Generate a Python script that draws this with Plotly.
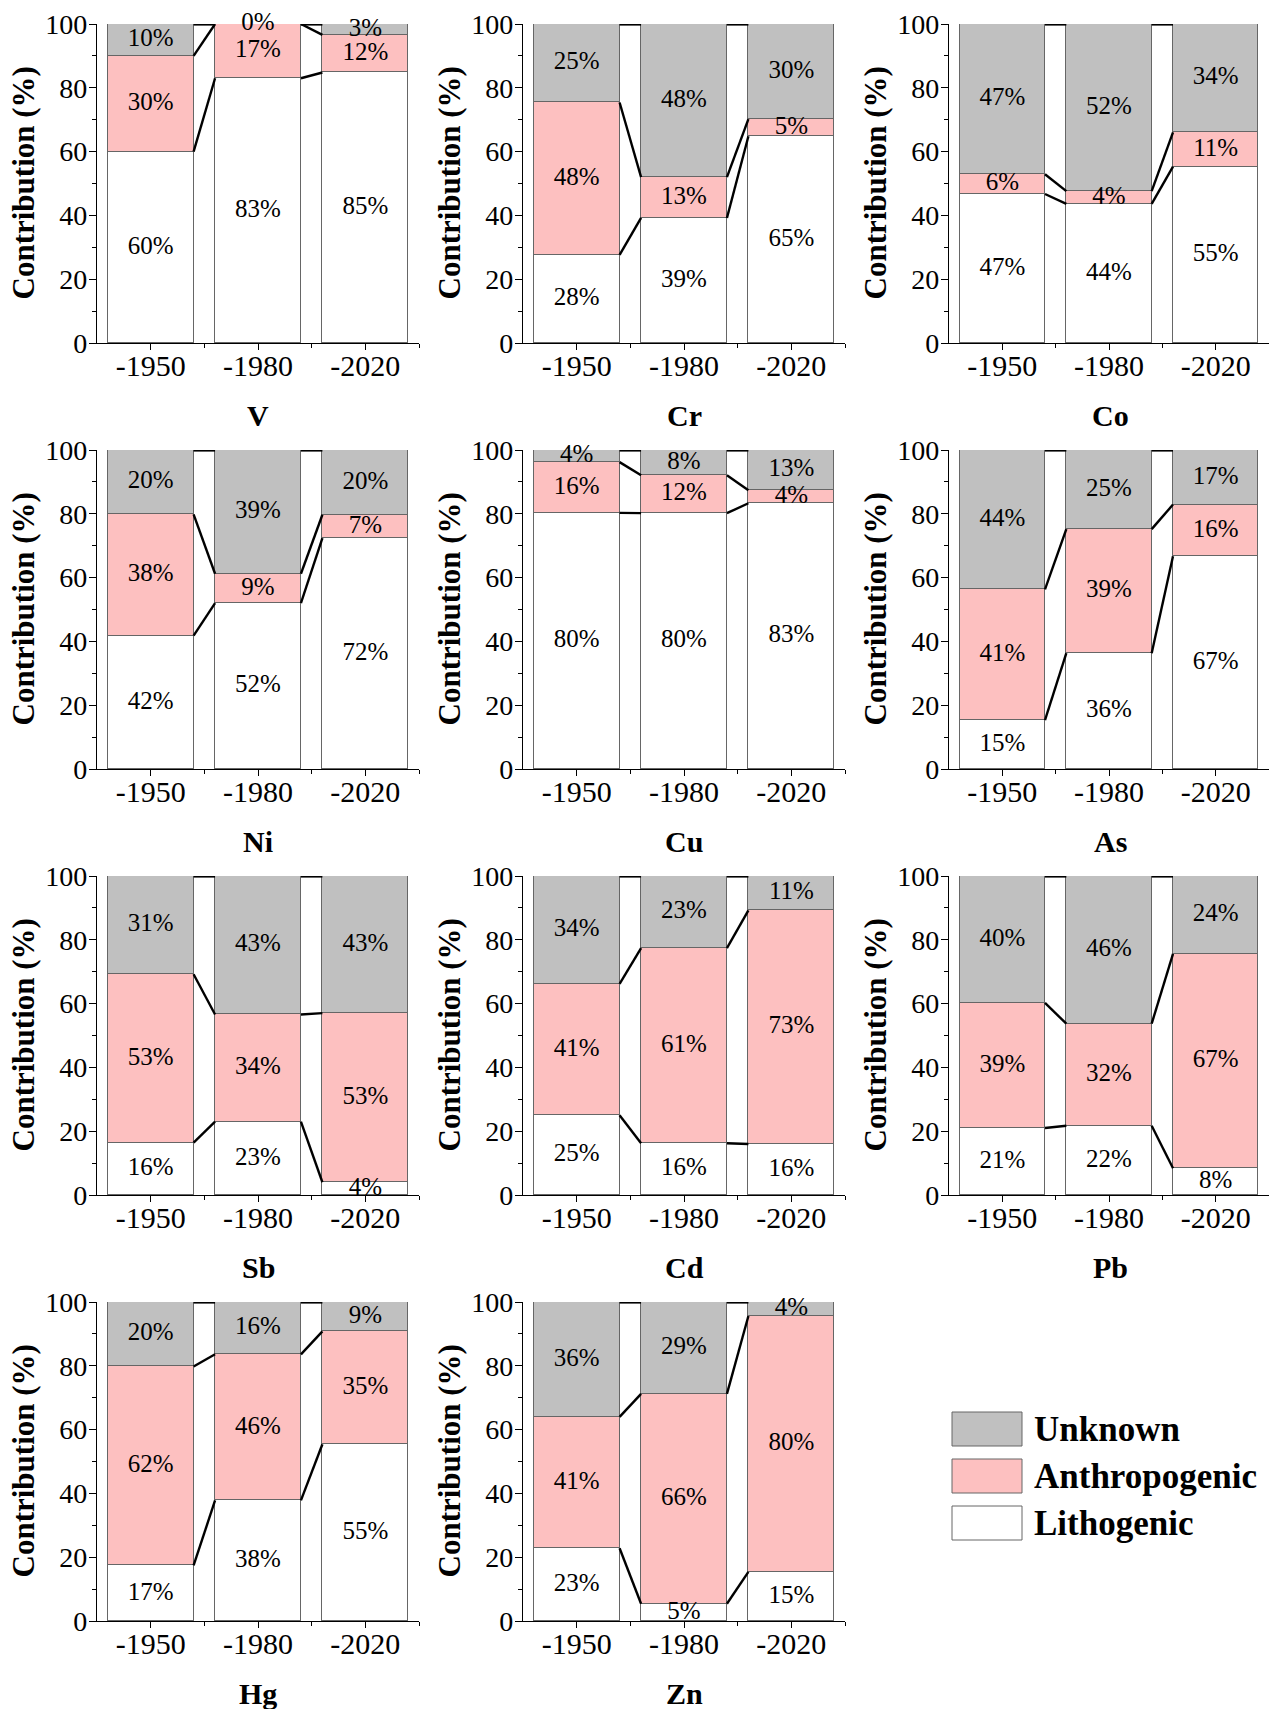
import plotly.graph_objects as go

# ---------------- data ----------------
elements = ["V", "Cr", "Co", "Ni", "Cu", "As", "Sb", "Cd", "Pb", "Hg", "Zn"]
periods = ["-1950", "-1980", "-2020"]

lithogenic = [
    [60.0, 83.0, 84.8],   # V
    [27.6, 39.2, 64.8],   # Cr
    [46.7, 43.6, 55.3],   # Co
    [41.8, 52.0, 72.4],   # Ni
    [80.3, 80.2, 83.3],   # Cu
    [15.3, 36.3, 66.7],   # As
    [16.4, 23.0, 4.0],    # Sb
    [25.0, 16.2, 16.0],   # Cd
    [21.0, 21.7, 8.4],    # Pb
    [17.4, 37.8, 55.4],   # Hg
    [22.8, 5.4, 15.4],    # Zn
]
anthropogenic = [
    [30.0, 17.0, 11.8],
    [47.8, 12.8, 5.4],
    [6.2, 4.0, 10.7],
    [38.0, 9.2, 7.3],
    [15.9, 11.9, 4.1],
    [41.0, 38.9, 16.2],
    [52.8, 33.6, 53.0],
    [41.2, 61.2, 73.2],
    [39.2, 32.0, 67.2],
    [62.4, 45.8, 35.4],
    [41.2, 65.8, 80.2],
]
unknown = [
    [10.0, 0.0, 3.4],
    [24.6, 48.0, 29.8],
    [47.1, 52.4, 34.0],
    [20.2, 38.8, 20.3],
    [3.8, 7.9, 12.6],
    [43.7, 24.8, 17.1],
    [30.8, 43.4, 43.0],
    [33.8, 22.6, 10.8],
    [39.8, 46.3, 24.4],
    [20.2, 16.4, 9.2],
    [36.0, 28.8, 4.4],
]
source_names = ["Lithogenic", "Anthropogenic", "Unknown"]
source_colors = ["#FFFFFF", "#FDC0C0", "#C0C0C0"]

# ---------------- layout geometry (pixels) ----------------
W, H = 1269, 1709
FONT = "Liberation Serif"
BAR_EDGE = "#666666"


def px_x(p):
    return p / W


def px_y(p):
    return 1 - p / H


fig = go.Figure()
layout_axes = {}
annotations = []
shapes = []

xpos = [0, 1, 2]
half_w = 0.4

for k, el in enumerate(elements):
    r, c = divmod(k, 3)
    ax_id = "" if k == 0 else str(k + 1)
    xref, yref = "x" + ax_id, "y" + ax_id

    L = lithogenic[k]
    A = anthropogenic[k]
    U = unknown[k]
    series = [L, A, U]

    # stacked bars
    for s, (name, col) in enumerate(zip(source_names, source_colors)):
        fig.add_trace(go.Bar(
            x=xpos, y=series[s], name=name, width=0.8,
            marker=dict(color=col, line=dict(color=BAR_EDGE, width=1)),
            xaxis=xref, yaxis=yref, showlegend=False, hoverinfo="skip",
        ))

    # cumulative boundaries
    cum1 = L
    cum2 = [L[i] + A[i] for i in range(3)]
    cum3 = [L[i] + A[i] + U[i] for i in range(3)]

    # connector lines between adjacent bars
    for cum, lw in ((cum1, 2.4), (cum2, 2.4), (cum3, 3.2)):
        for i in range(2):
            fig.add_trace(go.Scatter(
                x=[xpos[i] + half_w, xpos[i + 1] - half_w],
                y=[cum[i], cum[i + 1]],
                mode="lines", line=dict(color="black", width=lw),
                xaxis=xref, yaxis=yref, showlegend=False,
                hoverinfo="skip", cliponaxis=False,
            ))

    # segment labels
    tx, ty, tt = [], [], []
    for i in range(3):
        base = 0.0
        for s in range(3):
            v = series[s][i]
            tx.append(xpos[i])
            ty.append(base + v / 2)
            tt.append(f"{round(v):d}%")
            base += v
    fig.add_trace(go.Scatter(
        x=tx, y=ty, text=tt, mode="text",
        textfont=dict(family=FONT, size=25, color="black"),
        textposition="middle center",
        xaxis=xref, yaxis=yref, showlegend=False, hoverinfo="skip",
        cliponaxis=False,
    ))

    # axis domains
    x0 = (97 + 426 * c)
    x1 = min(419 + 426 * c, W)
    ytop = 24 + 426 * r
    ybot = 343 + 426 * r
    xa = "xaxis" + ax_id
    ya = "yaxis" + ax_id
    layout_axes[xa] = dict(
        domain=[px_x(x0), px_x(x1)], anchor=yref, range=[-0.5, 2.5],
        tickmode="array", tickvals=xpos, ticktext=periods,
        ticks="outside", ticklen=6, tickwidth=1.3, tickcolor="black",
        minor=dict(tickvals=[0.5, 1.5, 2.5], ticks="outside", ticklen=4,
                   tickwidth=1.3, tickcolor="black"),
        showline=True, linecolor="black", linewidth=1.3,
        showgrid=False, zeroline=False, fixedrange=True, automargin=False,
        ticklabelstandoff=-10,
        tickfont=dict(family=FONT, size=30, color="black"),
    )
    layout_axes[ya] = dict(
        domain=[px_y(ybot), px_y(ytop)], anchor=xref, range=[0, 100],
        tickmode="array", tickvals=[0, 20, 40, 60, 80, 100],
        ticks="outside", ticklen=7, tickwidth=1.3, tickcolor="black",
        minor=dict(tickvals=[10, 30, 50, 70, 90], ticks="outside", ticklen=4,
                   tickwidth=1.3, tickcolor="black"),
        showline=True, linecolor="black", linewidth=1.3,
        showgrid=False, zeroline=False, fixedrange=True, automargin=False,
        ticklabelstandoff=-4,
        tickfont=dict(family=FONT, size=28, color="black"),
    )

    # y-axis title
    annotations.append(dict(
        x=px_x(23 + 426 * c), y=px_y((ytop + ybot) / 2), xref="paper", yref="paper",
        text="<b>Contribution (%)</b>", textangle=-90, showarrow=False,
        font=dict(family=FONT, size=31, color="black"),
        xanchor="center", yanchor="middle",
    ))
    # panel title
    annotations.append(dict(
        x=px_x((97 + 419) / 2 + 426 * c), y=px_y(415 + 426 * r),
        xref="paper", yref="paper",
        text=f"<b>{el}</b>", showarrow=False,
        font=dict(family=FONT, size=30, color="black"),
        xanchor="center", yanchor="middle",
    ))

# ---------------- custom legend ----------------
legend_items = list(zip(source_names, source_colors))[::-1]  # Unknown, Anthropogenic, Lithogenic
legend_tops = [1412, 1459, 1506]
for (name, col), top in zip(legend_items, legend_tops):
    shapes.append(dict(
        type="rect", xref="paper", yref="paper",
        x0=px_x(952), x1=px_x(1022), y0=px_y(top + 34), y1=px_y(top),
        fillcolor=col, line=dict(color=BAR_EDGE, width=1),
    ))
    annotations.append(dict(
        x=px_x(1032), y=px_y(top + 17), xref="paper", yref="paper",
        text=f"<b>{name}</b>", showarrow=False,
        font=dict(family=FONT, size=35, color="black"),
        xanchor="left", yanchor="middle",
    ))

fig.update_layout(
    width=W, height=H,
    margin=dict(l=0, r=0, t=0, b=0, pad=0, autoexpand=False),
    paper_bgcolor="white", plot_bgcolor="white",
    barmode="stack", bargap=0,
    showlegend=False,
    font=dict(family=FONT, color="black"),
    annotations=annotations, shapes=shapes,
    **layout_axes,
)

fig.write_html(
    "out.html",
    config={"displayModeBar": False},
    post_script="document.body.style.margin='0';document.body.style.padding='0';",
)
